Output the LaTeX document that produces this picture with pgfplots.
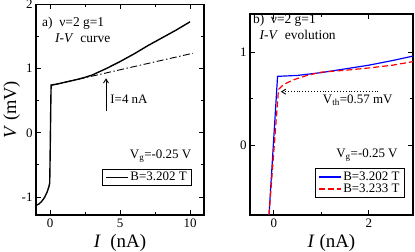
\documentclass[border=0pt]{standalone}
\usepackage{fontspec}
\setmainfont{Liberation Serif}
\usepackage{pgfplots}
\pgfplotsset{compat=1.18}
\usetikzlibrary{arrows.meta}
\definecolor{myred}{RGB}{255,0,0}
\definecolor{myblue}{RGB}{0,0,255}
\begin{document}
\begin{tikzpicture}
\useasboundingbox (0,0) rectangle (415bp,252bp);
\pgfplotsset{
  every axis/.append style={
    scale only axis,
    axis line style={line width=1.1pt},
    tick align=inside,
    major tick length=5bp, minor tick length=3bp,
    every tick/.style={black, line width=0.9pt},
    ticklabel style={font=\fontsize{13}{13}\selectfont},
    /pgf/number format/assume math mode=true,
    label style={font=\fontsize{19}{19}\selectfont},
    legend cell align=left,
    legend style={draw=black, line width=0.8pt, font=\fontsize{13}{13}\selectfont,
      inner xsep=3bp, inner ysep=1bp, row sep=-2bp},
    legend image code/.code={\draw[#1] (0bp,0bp) -- (22bp,0bp);},
  }
}
% ---------- panel a ----------
\begin{axis}[
  at={(36bp,37bp)}, anchor=south west,
  width=168bp, height=210.5bp,
  xmin=-1, xmax=11, ymin=-1.28, ymax=2,
  xtick={0,5,10}, ytick={-1,0,1,2},
  minor x tick num=1, minor y tick num=1,
  xlabel={\textit{I}\ \ (nA)}, ylabel={\textit{V} (mV)},
  xlabel style={at={(axis description cs:0.5,0)}, anchor=center, yshift=-28bp},
  ylabel style={at={(axis description cs:-0.145,0.5)}, anchor=center, font=\fontsize{18.5}{18.5}\selectfont},
  legend style={at={(axis cs:10.15,-0.56)}, anchor=north east},
]
\addplot[black, line width=1.4pt] coordinates {
(-1,-1.13) (-0.8,-1.11) (-0.6,-1.07) (-0.4,-1.01) (-0.2,-0.92) (-0.08,-0.84) (-0.02,-0.78)
(0.0,-0.5) (0.03,0.0) (0.06,0.5) (0.08,0.745) (0.5,0.76) (1,0.785) (1.5,0.81) (2,0.835)
(2.5,0.865) (3,0.9) (3.5,0.95) (4,1.0) (5,1.11) (6,1.23) (7,1.36) (8,1.48) (9,1.6) (10,1.73)
};
\addlegendentry{B=3.202 T}
\addplot[black, line width=0.9pt, dash pattern=on 7bp off 2.5bp on 1.5bp off 2.5bp, forget plot] coordinates {
(0.1,0.74) (10.2,1.24)
};
\draw[-{Straight Barb[length=4bp,width=5bp]}, line width=0.9pt] (axis cs:4,0.34) -- (axis cs:4,0.85);
\node[anchor=west, font=\fontsize{13}{13}\selectfont, inner sep=0pt] at (axis cs:4.3,0.53) {I=4 nA};
\node[anchor=west, font=\fontsize{13.5}{13.5}\selectfont, inner sep=0pt] at (axis cs:-0.57,1.70) {a)\ \ ν=2 g=1};
\node[anchor=west, font=\fontsize{13.5}{13.5}\selectfont, inner sep=0pt] at (axis cs:0.36,1.47) {\textit{I-V}\ \ curve};
\node[anchor=east, font=\fontsize{13}{13}\selectfont, inner sep=0pt] at (axis cs:10.1,-0.36) {V\textsubscript{g}=-0.25 V};
\end{axis}
% ---------- panel b ----------
\begin{axis}[
  at={(250bp,37bp)}, anchor=south west,
  width=163bp, height=201bp,
  xmin=-0.5, xmax=2.93, ymin=-0.75, ymax=1.41,
  xtick={0,2}, ytick={0,1},
  minor x tick num=1, minor y tick num=1,
  xlabel={\textit{I} (nA)},
  xlabel style={at={(axis description cs:0.5,0)}, anchor=center, yshift=-28bp},
  legend style={at={(axis cs:2.76,-0.25)}, anchor=north east},
]
\addplot[myblue, line width=1.2pt] coordinates {
(-0.1,-0.75) (0.08,0.74) (0.5,0.75) (1,0.78) (1.5,0.82) (2,0.86) (2.5,0.91) (2.95,0.96)
};
\addlegendentry{B=3.202 T}
\addplot[myred, line width=1.2pt, dash pattern=on 6bp off 3bp] coordinates {
(-0.1,-0.75) (0.1,0.6) (0.2,0.65) (0.4,0.7) (0.7,0.75) (1,0.785) (1.5,0.805) (2,0.83) (2.5,0.86) (2.95,0.9)
};
\addlegendentry{B=3.233 T}
\draw[-{Straight Barb[length=4bp,width=5bp]}, line width=0.9pt, dotted] (axis cs:2.2,0.575) -- (axis cs:0.15,0.575);
\node[anchor=west, font=\fontsize{13}{13}\selectfont, inner sep=0pt] at (axis cs:1.03,0.48) {V\textsubscript{th}=0.57 mV};
\node[anchor=west, font=\fontsize{13.5}{13.5}\selectfont, inner sep=0pt] at (axis cs:-0.44,1.34) {b)\ \ ν=2 g=1};
\node[anchor=west, font=\fontsize{13.5}{13.5}\selectfont, inner sep=0pt] at (axis cs:-0.3,1.18) {\textit{I-V}\ \ evolution};
\node[anchor=east, font=\fontsize{13}{13}\selectfont, inner sep=0pt] at (axis cs:2.61,-0.11) {V\textsubscript{g}=-0.25 V};
\end{axis}
\end{tikzpicture}
\end{document}
